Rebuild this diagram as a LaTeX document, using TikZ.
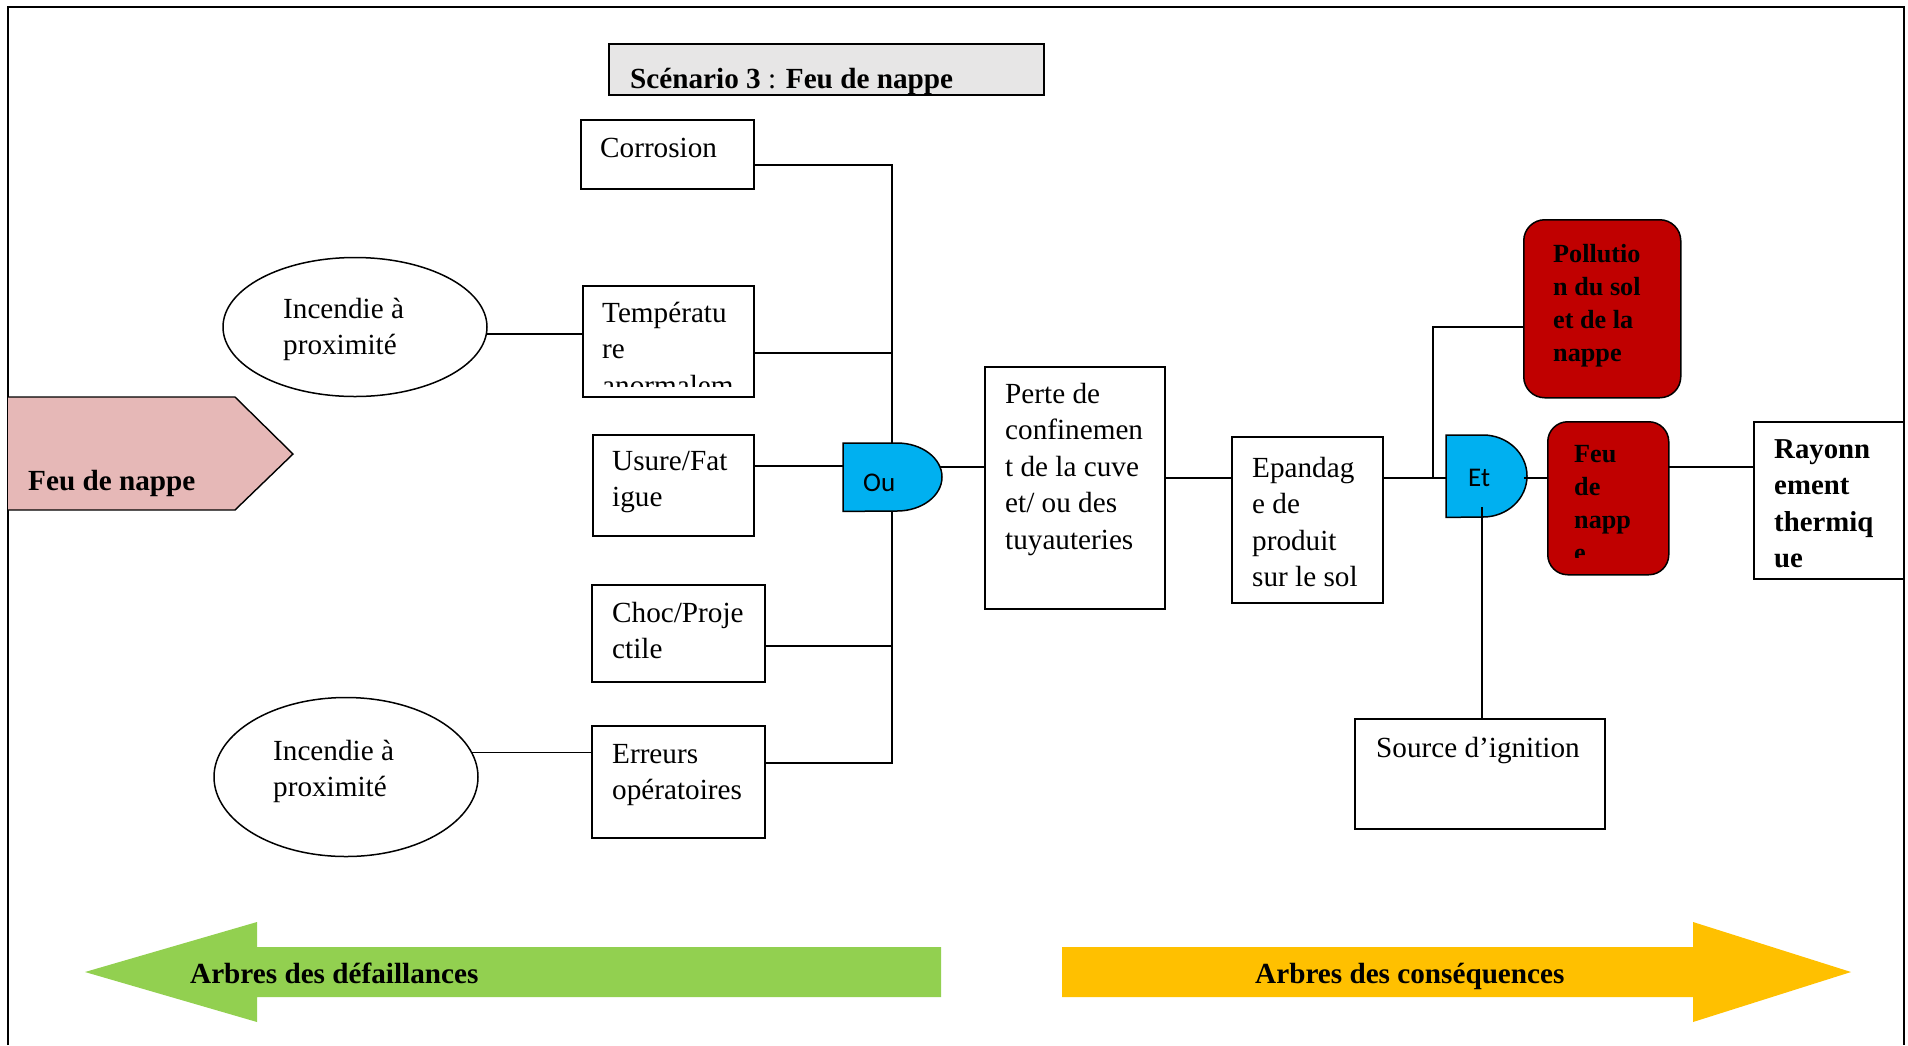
\documentclass[tikz,border=0pt]{standalone}
\usepackage{fontspec}
\setmainfont{Liberation Serif}
\newfontfamily\gatefont{Carlito}
\usetikzlibrary{shapes.geometric}

\definecolor{pinkfill}{HTML}{E6B8B7}
\definecolor{gatecyan}{HTML}{00B0F0}
\definecolor{eventred}{HTML}{C00000}
\definecolor{leafgreen}{HTML}{92D050}
\definecolor{amber}{HTML}{FFC000}
\definecolor{titlegray}{HTML}{E7E6E6}

% multi-line text whose first baseline is the node's base
\newcommand{\txtlines}[1]{\parbox[t]{400pt}{\raggedright #1}}

\tikzset{
  box/.style={draw, line width=1.5pt, fill=white, inner sep=0pt, anchor=north west},
  sz/.style 2 args={minimum width=#1, minimum height=#2},
  redbox/.style={box, fill=eventred, rounded corners=21pt},
  oval/.style={ellipse, draw, line width=1.5pt, fill=white, inner sep=0pt},
  hold/.style={inner sep=0pt, anchor=north west},
  lbl/.style={inner sep=0pt, anchor=base west, font=\fontsize{29.2}{36.5}\selectfont},
  blbl/.style={inner sep=0pt, anchor=base west, font=\fontsize{26.2}{33}\selectfont\bfseries},
  bigb/.style={inner sep=0pt, anchor=base west, font=\fontsize{29.2}{36.5}\selectfont\bfseries},
  gatelbl/.style={inner sep=0pt, anchor=base west, font=\fontsize{27}{32}\selectfont\gatefont},
  wire/.style={line width=1.4pt},
  gate/.style={fill=gatecyan, draw=black, line width=1.5pt},
}

\begin{document}
\begin{tikzpicture}[x=1pt, y=-1pt]
\useasboundingbox (0,0) rectangle (1908,1045);

% outer frame
\draw[line width=1.4pt] (8,1045) -- (8,7) -- (1904,7) -- (1904,1045);

% title
\node[box, fill=titlegray, sz={435pt}{51pt}] (title) at (608,43) {};
\node[lbl] (titleT) at (630,88) {\textbf{Scénario 3} : \textbf{Feu de nappe}};

% scenario tag
\path[fill=pinkfill] (8,397) -- (235,397) -- (293,454) -- (235,510) -- (8,510) -- cycle;
\draw[line width=1.4pt] (8,397) -- (235,397) -- (293,454) -- (235,510) -- (8,510);
\node[bigb] (tagT) at (28,490) {Feu de nappe};

% placeholders for the logic gates
\node[hold, sz={99pt}{68pt}] (ou) at (843,443) {};
\node[hold, sz={81pt}{82pt}] (et) at (1446,435) {};

% boxes
\node[box, sz={173pt}{69pt}] (corr) at (580,119) {};
\node[box, sz={171pt}{111pt}] (temp) at (582,285) {};
\node[box, sz={161pt}{101pt}] (usure) at (592,434) {};
\node[box, sz={173pt}{97pt}] (choc) at (591,584) {};
\node[box, sz={173pt}{112pt}] (err) at (591,725) {};
\node[box, sz={180pt}{242pt}] (perte) at (984,366) {};
\node[box, sz={151pt}{166pt}] (epand) at (1231,436) {};
\node[box, sz={250pt}{110pt}] (source) at (1354,718) {};
\node[box, sz={150pt}{157pt}] (rayon) at (1753,421) {};
\node[redbox, sz={157pt}{178pt}] (pollu) at (1523,219) {};
\node[redbox, sz={121pt}{153pt}, rounded corners=20pt] (feu) at (1547,421) {};

% junction points
\coordinate (busTop) at (892,165);
\coordinate (busBot) at (892,763);
\coordinate (jTemp) at (892,353);
\coordinate (jChoc) at (892,646);
\coordinate (jUsure) at (845,466);
\coordinate (ouOut) at (938,467);
\coordinate (mainLine) at (1433,478);
\coordinate (polLine) at (1433,327);
\coordinate (etOut) at (1524,478);
\coordinate (feuOut) at (1668,467);
\coordinate (etDown) at (1482,507);
\coordinate (lvPerte) at (1100,478);

% fault tree wiring
\draw[wire] (corr.east |- busTop) -- (busTop) -- (busBot) -- (err.east |- busBot);
\draw[wire] (temp.east |- jTemp) -- (jTemp);
\draw[wire] (choc.east |- jChoc) -- (jChoc);
\draw[wire] (usure.east |- jUsure) -- (jUsure);
\draw[wire] (ouOut) -- (ouOut -| perte.west);

% ellipses (drawn after, so their fill hides line ends)
\node[oval, sz={264pt}{139pt}] (ell1) at (355,327) {};
\node[oval, sz={264pt}{159pt}] (ell2) at (346,777) {};
\draw[wire] (ell1.-3) -- (ell1.-3 -| temp.west);
\draw[wire] (ell2.11) -- (ell2.11 -| err.west);

% consequence wiring
\draw[wire] (perte.east |- lvPerte) -- (epand.west |- lvPerte);
\draw[wire] (epand.east |- mainLine) -- (et.west |- mainLine);
\draw[wire] (mainLine) -- (polLine) -- (pollu.west |- polLine);
\draw[wire] (feuOut) -- (feuOut -| rayon.west);

% OR gate
\filldraw[gate] (ou.south west) -- (ou.north west) -- ([xshift=54pt]ou.north west)
  arc[start angle=90, end angle=-90, x radius=45pt, y radius=34pt] -- cycle;
\node[gatelbl] (ouT) at (863,491) {Ou};

% AND gate
\filldraw[gate] (et.south west) -- (et.north west) -- ([xshift=37pt]et.north west)
  arc[start angle=90, end angle=-90, x radius=44pt, y radius=41pt] -- cycle;
\node[gatelbl] (etT) at (1468,486) {Et};
\draw[wire] (etOut) -- (etOut -| feu.west);
\draw[wire] (etDown) -- (etDown |- source.north);

% texts
\node[lbl] (corrT) at (600,157) {Corrosion};
\begin{scope}
  \clip (temp.north west) rectangle ([yshift=11pt]temp.south east);
  \node[lbl] (tempT) at (602,322) {\txtlines{Températu\\re\\anormalem}};
\end{scope}
\node[lbl] (usureT) at (612,470) {\txtlines{Usure/Fat\\igue}};
\node[lbl] (chocT) at (612,622) {\txtlines{Choc/Proje\\ctile}};
\node[lbl] (errT) at (612,763) {\txtlines{Erreurs\\opératoires}};
\node[lbl] (ell1T) at (283,318) {\txtlines{Incendie à\\proximité}};
\node[lbl] (ell2T) at (273,760) {\txtlines{Incendie à\\proximité}};
\node[lbl] (perteT) at (1005,403) {\txtlines{Perte de\\confinemen\\t de la cuve\\et/ ou des\\tuyauteries}};
\node[lbl] (epandT) at (1252,477) {\txtlines{Epandag\\e de\\produit\\sur le sol}};
\node[lbl] (sourceT) at (1376,757) {Source d’ignition};
\node[blbl] (polluT) at (1553,262) {\txtlines{Pollutio\\n du sol\\et de la\\nappe}};
\begin{scope}
  \clip (feu.north west) rectangle ([yshift=18pt]feu.south east);
  \node[blbl] (feuT) at (1574,462) {\txtlines{Feu\\de\\napp\\e}};
\end{scope}
\node[bigb, font=\fontsize{28.8}{36.5}\selectfont\bfseries] (rayonT) at (1774,458) {\txtlines{Rayonn\\ement\\thermiq\\ue}};

% direction arrows
\path[fill=leafgreen] (941,947) -- (257,947) -- (257,922) -- (85,972) -- (257,1022) -- (257,997) -- (941,997) -- cycle;
\path[fill=amber] (1062,947) -- (1693,947) -- (1693,922) -- (1851,972) -- (1693,1022) -- (1693,997) -- (1062,997) -- cycle;
\node[bigb] (leftArrT) at (190,983) {Arbres des défaillances};
\node[bigb] (rightArrT) at (1255,983) {Arbres des conséquences};
\end{tikzpicture}
\end{document}
